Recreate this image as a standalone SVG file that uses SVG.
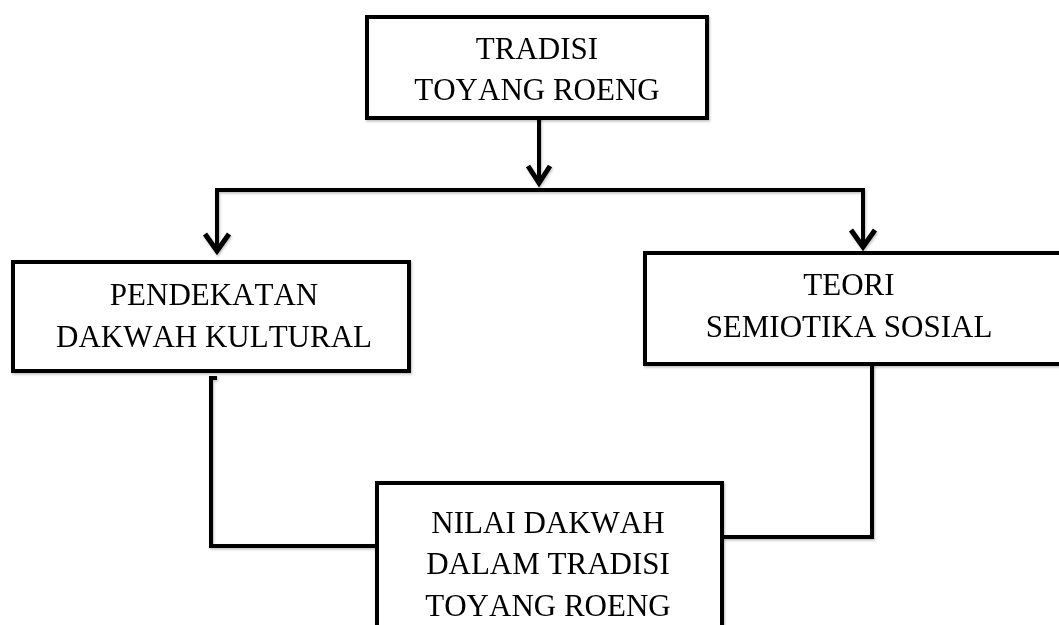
<svg xmlns="http://www.w3.org/2000/svg" width="1059" height="625" viewBox="0 0 1059 625">
  <style>
    .box { fill: #ffffff; stroke: #000000; stroke-width: 4; }
    .line { fill: none; stroke: #000000; stroke-width: 4; stroke-linejoin: miter; stroke-linecap: square; }
    .head { fill: none; stroke: #000000; stroke-width: 5; stroke-linejoin: miter; stroke-linecap: butt; }
    .label { font-family: "Liberation Serif", "Times New Roman", serif; font-size: 31px; fill: #000000; text-anchor: middle; font-kerning: none; }
  </style>
  <defs>
    <filter id="shadow" x="-5%" y="-5%" width="110%" height="110%">
      <feDropShadow dx="1" dy="1.5" stdDeviation="1" flood-color="#000000" flood-opacity="0.25"/>
    </filter>
  </defs>
  <rect width="1059" height="625" fill="#ffffff"/>

  <g id="connectors" filter="url(#shadow)">
    <path class="line" d="M539,118 V182"/>
    <polyline class="head" points="528,166 539,183 550,166"/>
    <path class="line" d="M217,251 V190 H863 V246"/>
    <polyline class="head" points="205,234 217,251 229,234"/>
    <polyline class="head" points="851,230 863,247 875,230"/>
    <path class="line" d="M215,378 H211 V546 H377"/>
    <path class="line" d="M872,363 V537 H722"/>
  </g>

  <g id="node-tradisi" filter="url(#shadow)">
    <rect class="box" x="367" y="17" width="340" height="101"/>
    <text class="label" x="537" y="59">TRADISI</text>
    <text class="label" x="537" y="100">TOYANG ROENG</text>
  </g>

  <g id="node-pendekatan" filter="url(#shadow)">
    <rect class="box" x="13" y="262" width="396" height="109"/>
    <text class="label" x="214" y="305">PENDEKATAN</text>
    <text class="label" x="214" y="347">DAKWAH KULTURAL</text>
  </g>

  <g id="node-teori" filter="url(#shadow)">
    <rect class="box" x="645" y="253" width="420" height="111"/>
    <text class="label" x="849" y="295">TEORI</text>
    <text class="label" x="849" y="337">SEMIOTIKA SOSIAL</text>
  </g>

  <g id="node-nilai" filter="url(#shadow)">
    <rect class="box" x="377" y="483" width="345" height="160"/>
    <text class="label" x="548" y="533">NILAI DAKWAH</text>
    <text class="label" x="548" y="574">DALAM TRADISI</text>
    <text class="label" x="548" y="616">TOYANG ROENG</text>
  </g>
</svg>
